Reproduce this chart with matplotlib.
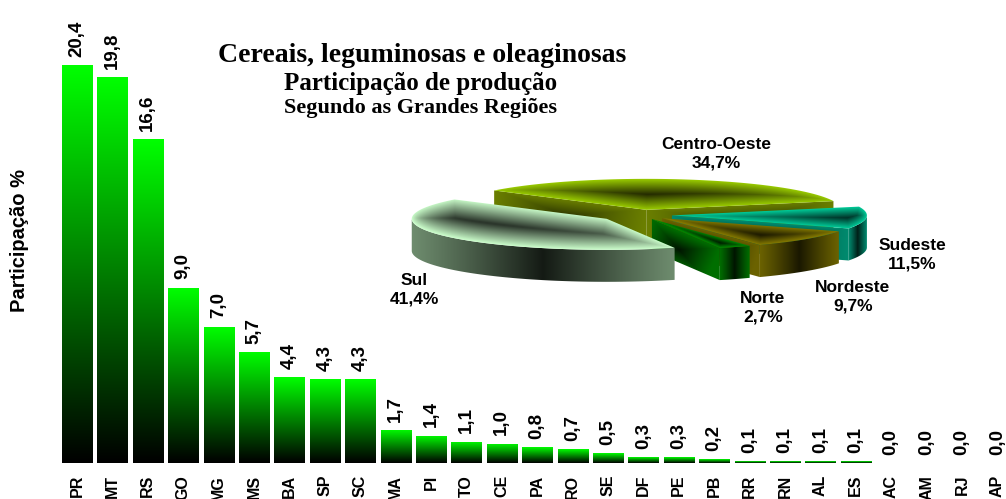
import numpy as np
import matplotlib
matplotlib.use("Agg")
import matplotlib.pyplot as plt
from matplotlib.colors import LinearSegmentedColormap, to_rgb
from matplotlib.patches import Polygon
from matplotlib.path import Path

plt.rcParams['font.family'] = ['Liberation Sans', 'DejaVu Sans']

# bar data (Participação %, por UF)
states = ['PR', 'MT', 'RS', 'GO', 'MG', 'MS', 'BA', 'SP', 'SC', 'MA', 'PI', 'TO', 'CE', 'PA',
          'RO', 'SE', 'DF', 'PE', 'PB', 'RR', 'RN', 'AL', 'ES', 'AC', 'AM', 'RJ', 'AP']
values = [20.4, 19.8, 16.6, 9.0, 7.0, 5.7, 4.4, 4.3, 4.3, 1.7, 1.4, 1.1, 1.0, 0.8,
          0.7, 0.5, 0.3, 0.3, 0.2, 0.1, 0.1, 0.1, 0.1, 0.0, 0.0, 0.0, 0.0]

# pie data (counter-clockwise from the start angle)
regions = ['Centro-Oeste', 'Sul', 'Norte', 'Nordeste', 'Sudeste']
shares = [34.7, 41.4, 2.7, 9.7, 11.5]

W, H = 1006, 499
fig = plt.figure(figsize=(W / 100, H / 100), dpi=100)

# ---------------- bars ----------------
ax = fig.add_axes([55.8 / W, 36 / H, 950.5 / W, 448.5 / H])
xpos = np.arange(len(states))
bars = ax.bar(xpos, values, width=0.85, color='none', edgecolor='none')
cmap = LinearSegmentedColormap.from_list('g', ['#000000', '#00ff00'])
grad = np.linspace(0, 1, 256).reshape(-1, 1)
for rect in bars:
    h = rect.get_height()
    if h <= 0:
        continue
    x0 = rect.get_x()
    im = ax.imshow(grad, cmap=cmap, origin='lower', aspect='auto',
                   extent=(x0, x0 + rect.get_width(), 0, h), zorder=2)
    im.set_clip_path(rect)

for x, v in zip(xpos, values):
    ax.annotate(f"{v:.1f}".replace('.', ','), (x, v), xytext=(0, 6),
                textcoords='offset points', rotation=90, ha='center', va='bottom',
                fontsize=13.5, fontweight='bold')

ax.set_xlim(-0.6, 26.25)
ax.set_ylim(0, 23)
ax.set_xticks(xpos)
ax.set_xticklabels(states, rotation=90, fontsize=11.5, fontweight='bold')
ax.tick_params(axis='x', length=0, pad=8.5)
ax.set_yticks([])
for s in ax.spines.values():
    s.set_visible(False)

fig.text(20 / W, 1 - 240 / H, 'Participação %', rotation=90, ha='center', va='center',
         fontsize=14.5, fontweight='bold')

serif = ['Liberation Serif', 'DejaVu Serif']
fig.text(422 / W, 1 - 62 / H, 'Cereais, leguminosas e oleaginosas', ha='center',
         va='baseline', fontsize=20, fontweight='bold', family=serif)
fig.text(421 / W, 1 - 90 / H, 'Participação de produção', ha='center',
         va='baseline', fontsize=18, fontweight='bold', family=serif)
fig.text(421 / W, 1 - 113 / H, 'Segundo as Grandes Regiões', ha='center',
         va='baseline', fontsize=16, fontweight='bold', family=serif)

# ---------------- 3D pie (drawn in pixel coordinates) ----------------
pa = fig.add_axes([0, 0, 1, 1])
pa.set_axis_off()

cx, cy = 640, 215      # centre
ra, rb = 195, 31       # ellipse radii
depth = 32
start = 16.4
explode = {'Centro-Oeste': 33, 'Sul': 41, 'Norte': 28, 'Nordeste': 30, 'Sudeste': 32}
# top light, top dark, side light, side dark
colors = {
    'Centro-Oeste': ('#9acc00', '#262d00', '#6b7f00', '#2e3800'),
    'Sul': ('#ccffcc', '#283228', '#6e8c6e', '#141a14'),
    'Norte': ('#008c00', '#002200', '#006e00', '#001500'),
    'Nordeste': ('#857a00', '#1e1b00', '#6b6200', '#1a1800'),
    'Sudeste': ('#00cc99', '#00352a', '#008a6e', '#002019'),
}
draw_order = ['Centro-Oeste', 'Sudeste', 'Nordeste', 'Norte', 'Sul']
label_pos = {'Centro-Oeste': (716, 154), 'Sul': (414, 290), 'Norte': (763, 308),
             'Nordeste': (853, 297), 'Sudeste': (912, 255)}

zc = [10]


def fill_shaded(verts, light, dark, shade_fn, gamma=1.0):
    verts = np.asarray(verts)
    x0, y0 = np.floor(verts.min(0)) - 1
    x1, y1 = np.ceil(verts.max(0)) + 1
    X, Y = np.meshgrid(np.arange(x0, x1) + 0.5, np.arange(y0, y1) + 0.5)
    s = np.clip(shade_fn(X, Y, verts), 0, 1) ** gamma
    c1, c2 = np.array(to_rgb(light)), np.array(to_rgb(dark))
    img = c1 * (1 - s[..., None]) + c2 * s[..., None]
    patch = Polygon(verts, closed=True, facecolor='none', edgecolor='none')
    pa.add_patch(patch)
    im = pa.imshow(img, extent=(x0, x1, y1, y0), origin='upper', aspect='auto',
                   interpolation='bilinear', zorder=zc[0])
    im.set_clip_path(patch)
    zc[0] += 1


def face_shade(X, Y, verts):
    d = np.full(X.shape, np.inf)
    for p, q in zip(verts, np.roll(verts, -1, 0)):
        seg = q - p
        L = seg @ seg
        if L == 0:
            continue
        t = np.clip(((X - p[0]) * seg[0] + (Y - p[1]) * seg[1]) / L, 0, 1)
        d = np.minimum(d, np.hypot(X - p[0] - t * seg[0], Y - p[1] - t * seg[1]))
    inside = Path(verts).contains_points(np.c_[X.ravel(), Y.ravel()]).reshape(X.shape)
    dmax = d[inside].max() if inside.any() else 1
    return d / dmax


def arc_shade(X, Y, verts):
    xmin, xmax = verts[:, 0].min(), verts[:, 0].max()
    u = (X - xmin) / max(xmax - xmin, 1)
    return 1 - np.abs(2 * u - 1)


def radial_shade_factory(p0, p1):
    def fn(X, Y, verts):
        e = p1 - p0
        u = ((X - p0[0]) * e[0] + (Y - p0[1]) * e[1]) / (e @ e)
        ytop = p0[1] + u * e[1]
        v = (Y - ytop) / depth
        return 1 - np.maximum(np.abs(2 * u - 1), np.abs(2 * v - 1))
    return fn


angles = {}
a = start
for name, sh in zip(regions, shares):
    angles[name] = (a, a + sh * 3.6)
    a += sh * 3.6

for name in draw_order:
    t1, t2 = angles[name]
    mid = np.radians((t1 + t2) / 2)
    e = explode[name]
    apex = np.array([cx + e * np.cos(mid), cy - e * np.sin(mid) * rb / ra])
    th = np.radians(np.linspace(t1, t2, max(int(t2 - t1) + 2, 3)))
    rim = np.c_[apex[0] + ra * np.cos(th), apex[1] - rb * np.sin(th)]
    top_l, top_d, side_l, side_d = colors[name]
    down = np.array([0, depth])

    walls = []
    # radial walls
    for ang, visible in ((t1, np.cos(np.radians(t1)) > 0), (t2, np.cos(np.radians(t2)) < 0)):
        if visible:
            r = np.radians(ang)
            p1 = apex + np.array([ra * np.cos(r), -rb * np.sin(r)])
            quad = np.array([apex, p1, p1 + down, apex + down])
            walls.append((quad, radial_shade_factory(apex, p1)))
    # outer arc wall (front half)
    front = np.sin(th) < 0
    if front.sum() >= 2:
        arc = rim[front]
        poly = np.vstack([arc, (arc + down)[::-1]])
        walls.append((poly, arc_shade))
    walls.sort(key=lambda w: w[0][:, 1].mean())
    for poly, fn in walls:
        fill_shaded(poly, side_l, side_d, fn, gamma=1.1)
    # top face
    fill_shaded(np.vstack([apex, rim]), top_l, top_d, face_shade, gamma=1.0)

for name, sh in zip(regions, shares):
    lx, ly = label_pos[name]
    pa.text(lx, ly, f"{name}\n{sh:.1f}%".replace('.', ','), ha='center', va='center',
            multialignment='center', fontsize=12.5, fontweight='bold', linespacing=1.3,
            zorder=50)

pa.set_xlim(0, W)
pa.set_ylim(H, 0)

fig.savefig('out.png', dpi=100, facecolor='white')
